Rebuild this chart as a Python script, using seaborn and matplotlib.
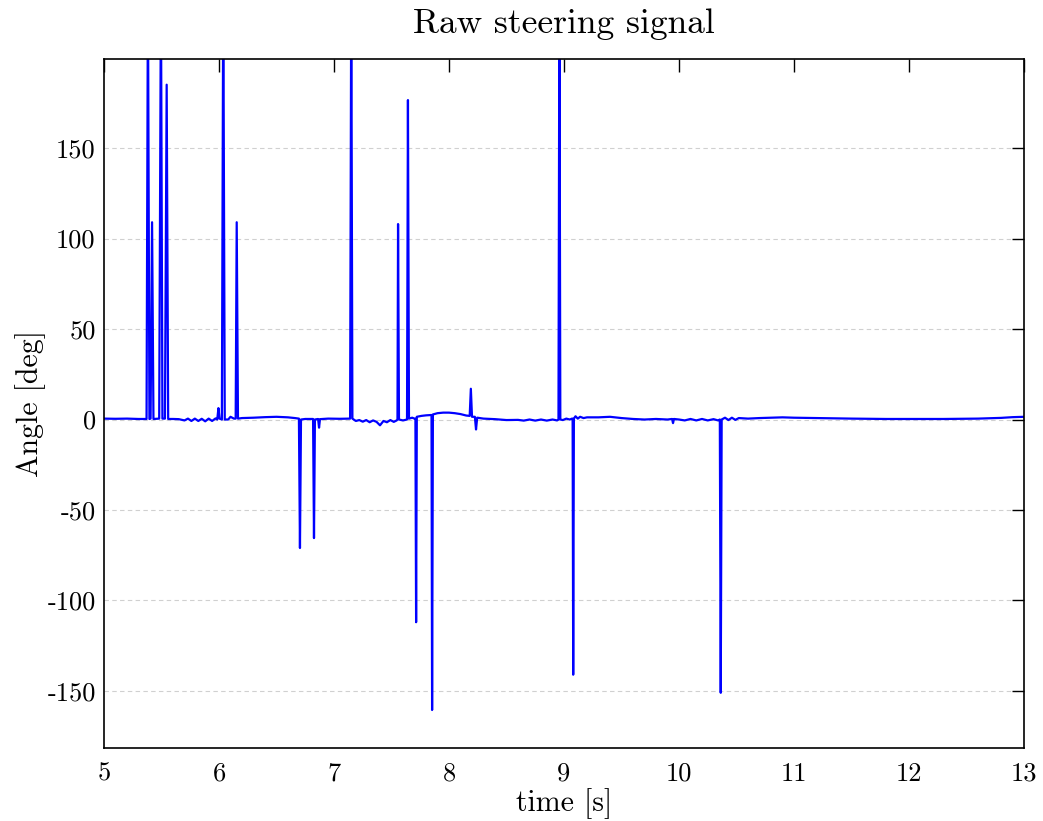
import matplotlib
matplotlib.use("Agg")
import matplotlib.pyplot as plt
import seaborn as sns
import pandas as pd

# ---- data ----
time_s = [
    5.000, 5.100, 5.200, 5.300, 5.370, 5.382, 5.395, 5.405, 5.418, 5.430,
    5.480, 5.495, 5.508, 5.530, 5.545, 5.558, 5.600, 5.650, 5.700, 5.730,
    5.760, 5.790, 5.820, 5.850, 5.880, 5.910, 5.940, 5.970, 5.985, 5.995,
    6.005, 6.025, 6.037, 6.050, 6.080, 6.100, 6.130, 6.145, 6.154, 6.165,
    6.200, 6.300, 6.400, 6.500, 6.600, 6.660, 6.695, 6.704, 6.713, 6.750,
    6.800, 6.818, 6.826, 6.834, 6.862, 6.870, 6.878, 6.950, 7.050, 7.120,
    7.140, 7.150, 7.160, 7.190, 7.220, 7.250, 7.280, 7.310, 7.340, 7.370,
    7.400, 7.430, 7.460, 7.490, 7.520, 7.545, 7.552, 7.557, 7.565, 7.600,
    7.635, 7.643, 7.652, 7.680, 7.700, 7.708, 7.714, 7.720, 7.760, 7.800,
    7.840, 7.848, 7.853, 7.860, 7.900, 7.950, 8.000, 8.050, 8.100, 8.150,
    8.180, 8.190, 8.200, 8.225, 8.235, 8.245, 8.300, 8.400, 8.500, 8.600,
    8.650, 8.700, 8.750, 8.800, 8.850, 8.900, 8.940, 8.952, 8.960, 8.968,
    8.990, 9.020, 9.050, 9.070, 9.075, 9.080, 9.086, 9.100, 9.120, 9.140,
    9.170, 9.200, 9.300, 9.400, 9.500, 9.600, 9.700, 9.800, 9.900, 9.940,
    9.948, 9.956, 10.000, 10.050, 10.100, 10.150, 10.200, 10.250, 10.300, 10.340,
    10.355, 10.363, 10.371, 10.400, 10.430, 10.460, 10.490, 10.520, 10.600, 10.700,
    10.800, 10.900, 11.000, 11.200, 11.500, 11.800, 12.000, 12.300, 12.600, 12.800,
    12.900, 13.000,
]
angle_deg = [
    0.5, 0.4, 0.5, 0.3, 0.3, 240.0, 0.3, 0.5, 109.0, 0.3,
    0.5, 240.0, 0.5, 0.5, 185.0, 0.3, 0.3, 0.2, -0.5, 0.5,
    -0.8, 0.5, -0.8, 0.4, -1.0, 0.5, -0.8, 0.6, 0.0, 6.3,
    0.5, 0.0, 240.0, 0.0, 0.0, 1.5, 0.5, 0.5, 109.0, 0.5,
    0.8, 1.0, 1.3, 1.5, 1.2, 0.8, 0.5, -71.0, 0.0, 0.3,
    0.3, 0.3, -65.5, 0.0, 0.3, -4.5, 0.2, 0.5, 0.4, 0.5,
    0.5, 240.0, 0.5, -0.8, -0.3, -1.2, -0.3, -1.5, -0.5, -1.3,
    -3.2, -0.8, -1.5, -0.3, -1.3, -0.5, 0.0, 108.0, 0.0, -0.5,
    0.0, 176.5, 0.5, 1.0, 0.5, 0.5, -112.0, 1.5, 2.0, 2.3,
    2.5, 2.5, -160.5, 2.8, 3.5, 3.8, 3.8, 3.5, 3.0, 2.2,
    2.0, 17.0, 1.5, 1.5, -5.5, 1.0, 0.5, 0.2, -0.3, -0.2,
    -0.6, 0.0, -0.6, 0.0, -0.6, 0.0, -0.5, 0.0, 240.0, 0.0,
    -0.3, 0.5, 0.0, 0.5, 0.5, -141.0, 0.5, 1.8, 0.5, 1.5,
    0.8, 1.2, 1.2, 1.5, 0.8, 0.3, 0.0, 0.3, 0.0, 0.3,
    -2.0, 0.3, 0.0, -0.5, 0.3, -0.5, 0.3, -0.5, 0.2, -0.5,
    0.0, -151.0, 0.0, 1.0, -0.3, 1.0, -0.2, 0.8, 0.5, 0.8,
    1.0, 1.2, 1.0, 0.8, 0.5, 0.3, 0.3, 0.3, 0.5, 0.9,
    1.3, 1.5,
]
x_ticks = [5, 6, 7, 8, 9, 10, 11, 12, 13]
y_ticks = [-150, -100, -50, 0, 50, 100, 150]

sns.set_theme(style="white")
plt.rcParams["font.family"] = ["cmr10", "DejaVu Serif"]
plt.rcParams["axes.unicode_minus"] = False
plt.rcParams["axes.formatter.use_mathtext"] = True
plt.rcParams["mathtext.fontset"] = "cm"
plt.rcParams["text.color"] = "black"
plt.rcParams["axes.labelcolor"] = "black"
plt.rcParams["xtick.color"] = "black"
plt.rcParams["ytick.color"] = "black"

df = pd.DataFrame({"time": time_s, "angle": angle_deg})

fig = plt.figure(figsize=(10.43, 8.21), dpi=100)
ax = fig.add_axes([104 / 1043, 1 - 748 / 821, (1024 - 104) / 1043, (748 - 59) / 821])

ax.yaxis.grid(True, linestyle=(0, (4, 3)), color="#d0d0d0", linewidth=0.8)
ax.xaxis.grid(False)
ax.set_axisbelow(True)

sns.lineplot(data=df, x="time", y="angle", ax=ax, color="#0000ff",
             linewidth=1.6, estimator=None, sort=False)

ax.set_xlim(5, 13)
ax.set_ylim(-181.5, 199.2)
ax.set_xticks(x_ticks)
ax.set_yticks(y_ticks)
ax.set_xticklabels([str(v) for v in x_ticks])
ax.set_yticklabels([str(v) for v in y_ticks])

ax.tick_params(axis="both", which="major", direction="in", length=9, width=1.0,
               top=True, right=True, labelsize=19, color="black", labelcolor="black")
ax.tick_params(axis="x", pad=10)
ax.tick_params(axis="y", pad=6)

for s in ax.spines.values():
    s.set_visible(True)
    s.set_color("black")
    s.set_linewidth(1.2)

ax.set_xlabel("time [s]", fontsize=21.5, labelpad=2, color="black")
ax.set_ylabel("Angle [deg]", fontsize=21.5, labelpad=1, color="black")
ax.set_title("Raw steering signal", fontsize=25.5, pad=19, color="black")

fig.savefig("out.png", dpi=100, facecolor="white")
